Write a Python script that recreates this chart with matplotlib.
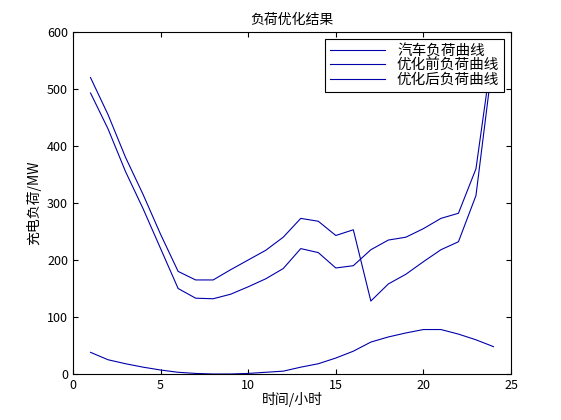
import matplotlib
matplotlib.use('Agg')
import matplotlib.pyplot as plt

plt.rcParams['font.family'] = ['Noto Sans CJK SC', 'DejaVu Sans']
plt.rcParams['font.size'] = 9

hours = list(range(1, 25))
car = [38, 25, 18, 12, 7, 3, 1, 0, 0, 1, 3, 5, 12, 18, 28, 40, 56, 65, 72, 78, 78, 70, 60, 48]
before = [493, 430, 355, 290, 220, 150, 133, 132, 140, 153, 167, 185, 220, 213, 186, 190,
          218, 235, 240, 255, 273, 282, 360, 580]
after = [520, 455, 380, 315, 245, 180, 165, 165, 183, 200, 217, 240, 273, 268, 243, 253,
         128, 158, 175, 197, 218, 232, 313, 560]

fig = plt.figure(figsize=(5.61, 4.2), dpi=100)
ax = fig.add_axes([73/561, 46/420, 438/561, 342/420])
ax.plot(hours, car, color='#0000aa', lw=0.8, label='汽车负荷曲线')
ax.plot(hours, before, color='#0000aa', lw=0.8, label='优化前负荷曲线')
ax.plot(hours, after, color='#0000aa', lw=0.8, label='优化后负荷曲线')
ax.set_xlim(0, 25)
ax.set_ylim(0, 600)
ax.tick_params(direction='in', top=True, right=True, labelsize=9)
ax.set_xlabel('时间/小时', labelpad=0, fontsize=10)
ax.set_ylabel('充电负荷/MW', fontsize=10)
ax.set_title('负荷优化结果', fontsize=10)
leg = ax.legend(loc='upper right', fancybox=False, framealpha=1, edgecolor='black',
                borderpad=0.3, labelspacing=0.05, handlelength=3.8, fontsize=10.5)
leg.get_frame().set_linewidth(0.8)
fig.savefig('out.png')
